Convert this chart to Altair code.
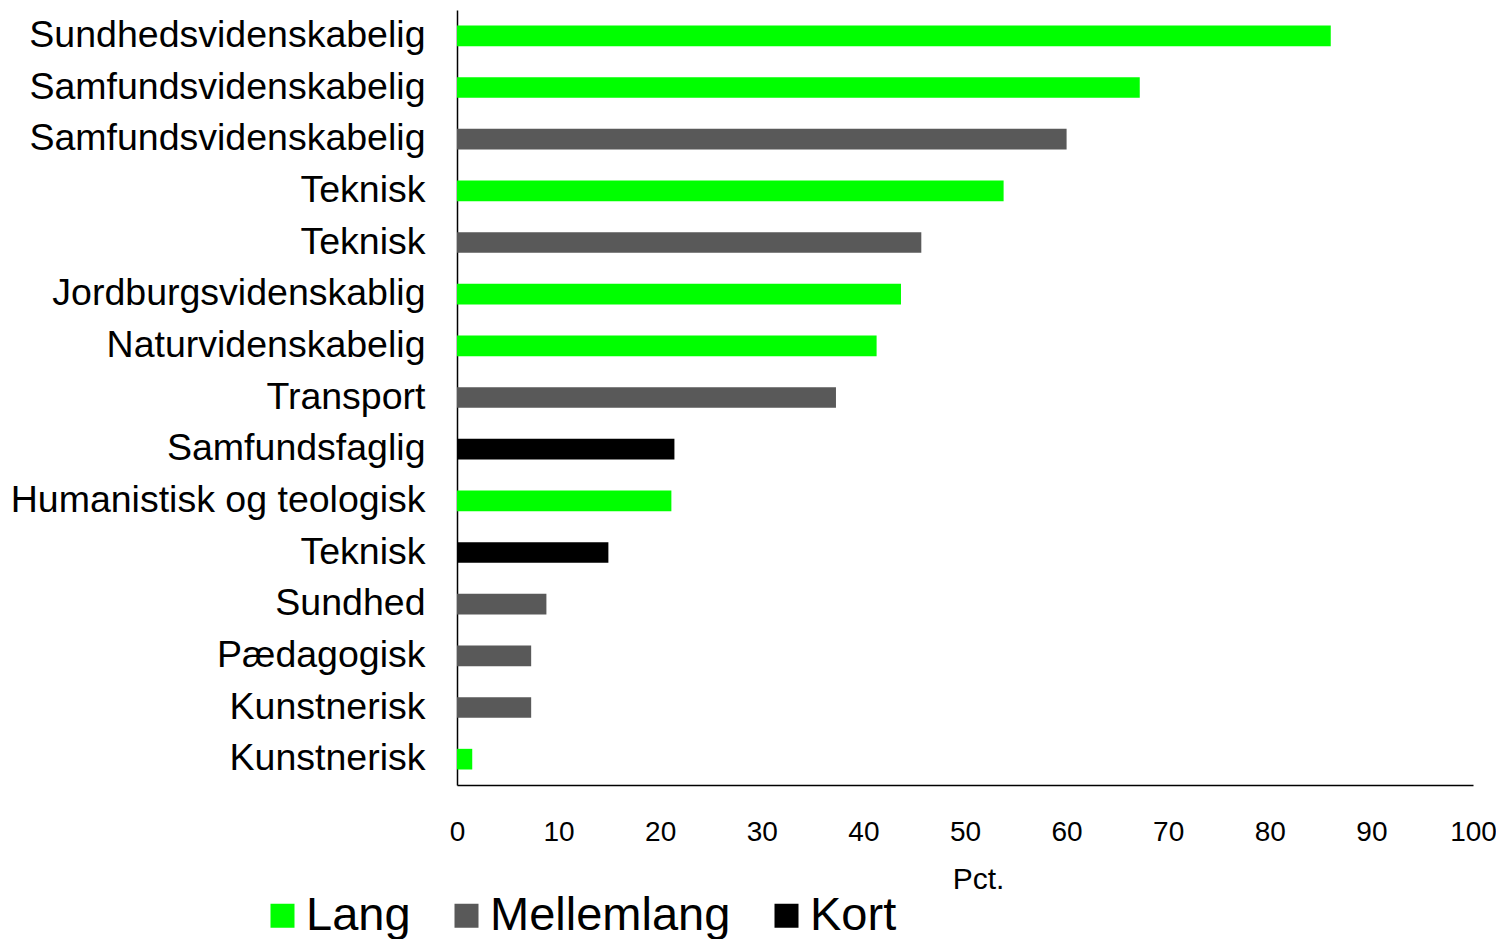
import altair as alt
import pandas as pd

labels = ["Sundhedsvidenskabelig", "Samfundsvidenskabelig", "Samfundsvidenskabelig",
          "Teknisk", "Teknisk", "Jordburgsvidenskablig", "Naturvidenskabelig",
          "Transport", "Samfundsfaglig", "Humanistisk og teologisk", "Teknisk",
          "Sundhed", "Pædagogisk", "Kunstnerisk", "Kunstnerisk"]
groups = ["Lang", "Lang", "Mellemlang", "Lang", "Mellemlang", "Lang", "Lang",
          "Mellemlang", "Kort", "Lang", "Kort", "Mellemlang", "Mellemlang",
          "Mellemlang", "Lang"]
values = [86.0, 67.2, 60.0, 53.8, 45.7, 43.7, 41.3, 37.3, 21.4, 21.1, 14.9,
          8.8, 7.3, 7.3, 1.5]
group_order = ["Lang", "Mellemlang", "Kort"]
group_colors = ["#00FF00", "#595959", "#000000"]

keys = [f"{i:02d} {l}" for i, l in enumerate(labels)]
df = pd.DataFrame({"key": keys, "label": labels, "group": groups, "value": values})

FONT = "Liberation Sans"

chart = alt.Chart(df).mark_bar().encode(
    y=alt.Y("key:N", sort=keys,
            scale=alt.Scale(paddingInner=0.6, paddingOuter=0.3),
            axis=alt.Axis(title=None, labelExpr="substring(datum.value, 3)",
                          ticks=False, labelPadding=32, labelFontSize=37.5,
                          labelFont=FONT, labelColor="#000000",
                          domainColor="#000000", domainWidth=1.5,
                          labelLimit=600)),
    x=alt.X("value:Q", scale=alt.Scale(domain=[0, 100]),
            axis=alt.Axis(title="Pct.", values=list(range(0, 101, 10)),
                          ticks=False, grid=False, labelPadding=33,
                          labelFontSize=28, labelFont=FONT,
                          labelColor="#000000", titleFontSize=30,
                          titleFont=FONT, titleFontWeight="normal",
                          titleColor="#000000", titlePadding=18,
                          titleX=521, titleAlign="center",
                          domainColor="#000000", domainWidth=1.5,
                          labelFlush=False)),
    color=alt.Color("group:N",
                    scale=alt.Scale(domain=group_order, range=group_colors),
                    legend=alt.Legend(title=None, orient="none",
                                      legendX=-198, legendY=882,
                                      direction="horizontal",
                                      symbolType="square", symbolSize=576,
                                      symbolStrokeWidth=0,
                                      labelFontSize=47, labelFont=FONT,
                                      labelColor="#000000", columnPadding=32,
                                      labelOffset=0, labelLimit=400)),
).properties(
    width=1016, height=775,
    autosize=alt.AutoSizeParams(type="none"),
    padding={"left": 449, "top": 2, "right": 23, "bottom": 154},
).configure_view(stroke=None)

chart.save("out.html", embed_options={"renderer": "svg", "actions": False})
